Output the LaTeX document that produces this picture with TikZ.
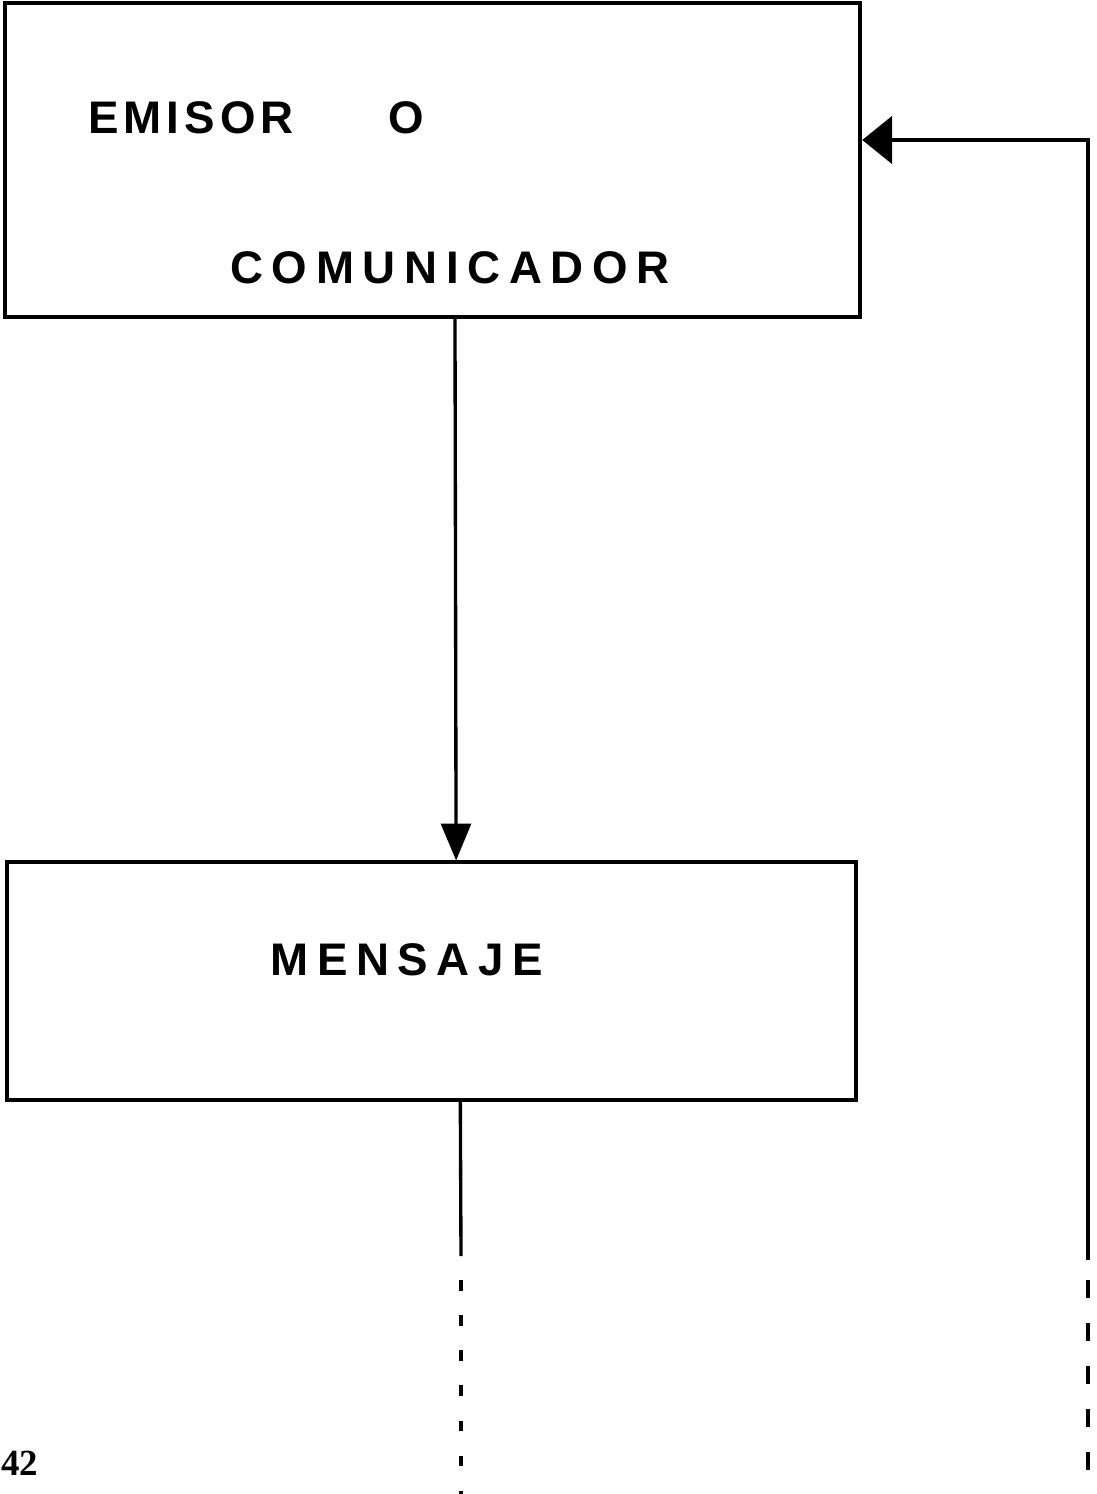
\documentclass[tikz,border=0pt]{standalone}
\usepackage{fontspec}
\usetikzlibrary{arrows.meta}
\newfontfamily\lblA[LetterSpace=11]{Liberation Sans}
\newfontfamily\lblB[LetterSpace=19]{Liberation Sans}
\newfontfamily\pagefont{Liberation Serif}
\begin{document}
\begin{tikzpicture}[x=0.02cm,y=-0.02cm,
  box/.style={draw,line width=2.2pt,inner sep=0pt},
  lbl/.style={anchor=base west,inner sep=0pt},
  link/.style={line width=1.9pt},
  headdown/.style={-{Triangle[length=21pt,width=17pt]}},
  headleft/.style={-{Triangle[length=17pt,width=27pt]}},
  dashL/.style={line width=2.1pt,dash pattern=on 6pt off 14pt},
  dashR/.style={line width=2.1pt,dash pattern=on 10pt off 14.5pt}]
\useasboundingbox (0,0) rectangle (1097,1494);

% boxes
\node[box,minimum width=487pt,minimum height=179pt] (emisor) at (432.5,160) {};
\node[box,minimum width=483.6pt,minimum height=135pt] (mensaje) at (431.5,981) {};

% labels
\node[lbl] (t1) at (88,133) {\fontsize{26}{30}\selectfont\bfseries\lblA EMISOR};
\node[lbl] (t2) at (388,133) {\fontsize{26}{30}\selectfont\bfseries\lblA O};
\node[lbl] (t3) at (230,283) {\fontsize{26}{30}\selectfont\bfseries\lblB COMUNICADOR};
\node[lbl] (t4) at (270,975) {\fontsize{26}{30}\selectfont\bfseries\lblB MENSAJE};
\node[lbl] (pg) at (1,1475) {\fontsize{21}{25}\selectfont\pagefont\bfseries 42};

% emisor to mensaje
\draw[link,headdown] ([xshift=12.8pt]emisor.south) -- ([xshift=14pt]mensaje.north);

% mensaje downwards
\coordinate (lb) at (461,1256);
\coordinate (ld) at (461,1280);
\coordinate (le) at (461,1494);
\draw[link] ([xshift=16.4pt]mensaje.south) -- (lb);
\draw[dashL] (ld) -- (le);

% feedback line
\coordinate (corner) at (1088,140);
\coordinate (rb) at (1088,1260);
\coordinate (rd) at (1088,1280);
\coordinate (re) at (1088,1494);
\draw[link,headleft] (rb) -- (corner) -- (emisor.east |- corner);
\draw[dashR] (rd) -- (re);
\end{tikzpicture}
\end{document}
